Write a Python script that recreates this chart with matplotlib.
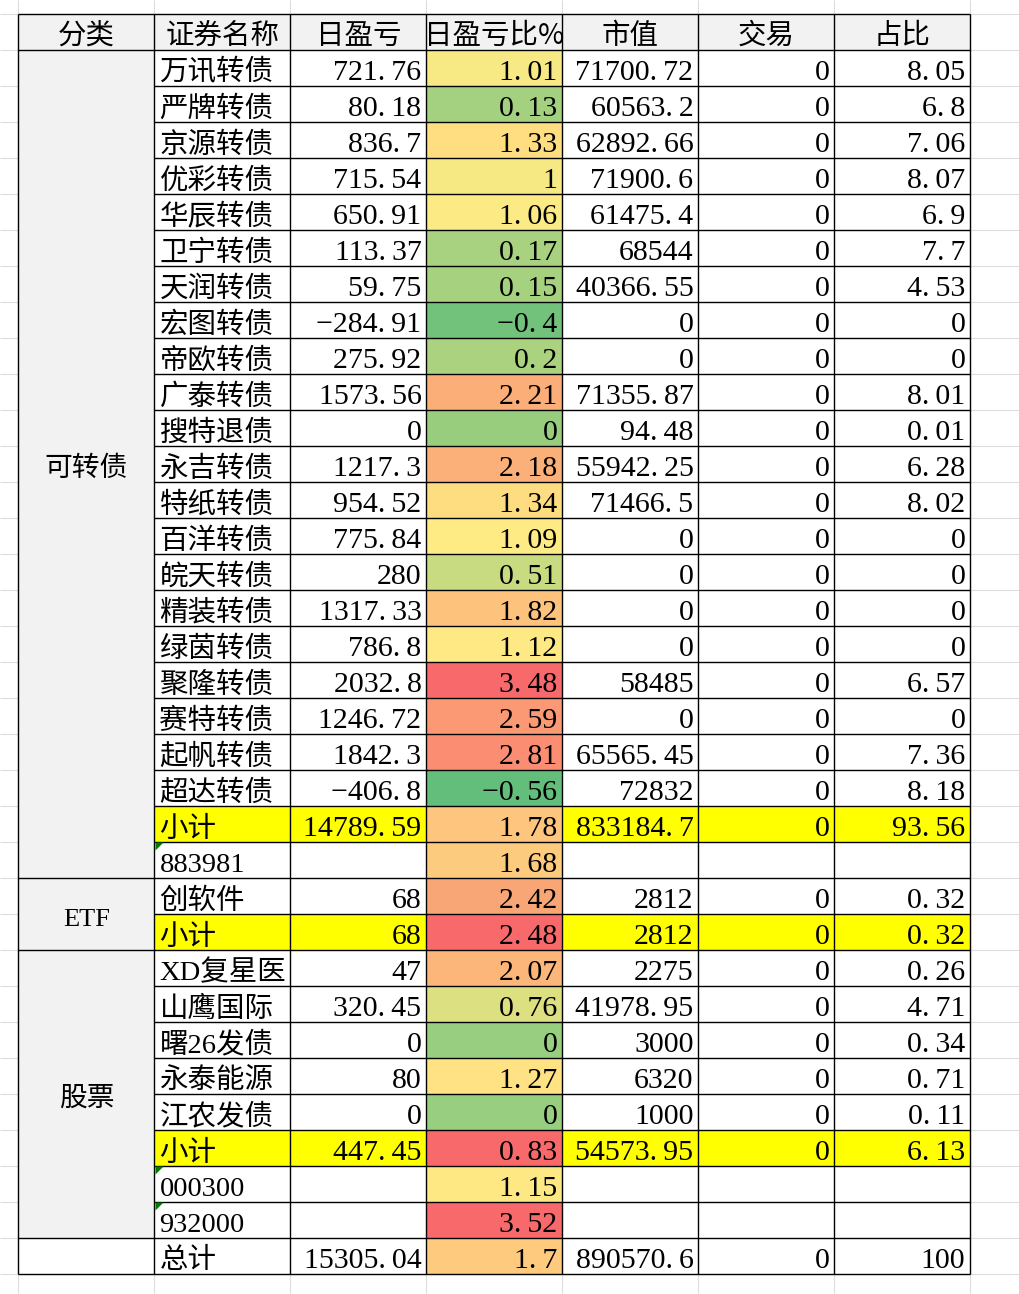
import matplotlib
matplotlib.use('Agg')
import matplotlib.pyplot as plt
from matplotlib.patches import Rectangle, Polygon
import numpy as np

# ---------------- data ----------------
headers = ['分类', '证券名称', '日盈亏', '日盈亏比%', '市值', '交易', '占比']

group_labels = ['可转债', 'ETF', '股票', '']
group_sizes = [23, 2, 8, 1]

names = ['万讯转债', '严牌转债', '京源转债', '优彩转债', '华辰转债', '卫宁转债', '天润转债',
         '宏图转债', '帝欧转债', '广泰转债', '搜特退债', '永吉转债', '特纸转债', '百洋转债',
         '皖天转债', '精装转债', '绿茵转债', '聚隆转债', '赛特转债', '起帆转债', '超达转债',
         '小计', '883981',
         '创软件', '小计',
         'XD复星医', '山鹰国际', '曙26发债', '永泰能源', '江农发债', '小计', '000300', '932000',
         '总计']

pnl = [721.76, 80.18, 836.7, 715.54, 650.91, 113.37, 59.75, -284.91, 275.92, 1573.56, 0,
       1217.3, 954.52, 775.84, 280, 1317.33, 786.8, 2032.8, 1246.72, 1842.3, -406.8,
       14789.59, None,
       68, 68,
       47, 320.45, 0, 80, 0, 447.45, None, None,
       15305.04]

ratio = [1.01, 0.13, 1.33, 1, 1.06, 0.17, 0.15, -0.4, 0.2, 2.21, 0, 2.18, 1.34, 1.09, 0.51,
         1.82, 1.12, 3.48, 2.59, 2.81, -0.56,
         1.78, 1.68,
         2.42, 2.48,
         2.07, 0.76, 0, 1.27, 0, 0.83, 1.15, 3.52,
         1.7]

market_value = [71700.72, 60563.2, 62892.66, 71900.6, 61475.4, 68544, 40366.55, 0, 0,
                71355.87, 94.48, 55942.25, 71466.5, 0, 0, 0, 0, 58485, 0, 65565.45, 72832,
                833184.7, None,
                2812, 2812,
                2275, 41978.95, 3000, 6320, 1000, 54573.95, None, None,
                890570.6]

trade = [0, 0, 0, 0, 0, 0, 0, 0, 0, 0, 0, 0, 0, 0, 0, 0, 0, 0, 0, 0, 0,
         0, None,
         0, 0,
         0, 0, 0, 0, 0, 0, None, None,
         0]

share = [8.05, 6.8, 7.06, 8.07, 6.9, 7.7, 4.53, 0, 0, 8.01, 0.01, 6.28, 8.02, 0, 0, 0, 0,
         6.57, 0, 7.36, 8.18,
         93.56, None,
         0.32, 0.32,
         0.26, 4.71, 0.34, 0.71, 0.11, 6.13, None, None,
         100]

# ---------------- styles ----------------
# colour scale fills for the rows outside the first group
other_ratio_fill = ['#F9A676', '#F8696B', '#FCB67A', '#DCE081', '#98CE7F', '#FEE283',
                    '#98CE7F', '#F8696B', '#FEE883', '#F8696B', '#FDCA7E']

def scale3(v, lo, mid, hi):
    c_lo = (99, 190, 123)
    c_mid = (255, 235, 132)
    c_hi = (248, 105, 107)
    if v <= mid:
        t = (v - lo) / (mid - lo); a, b = c_lo, c_mid
    else:
        t = (v - mid) / (hi - mid); a, b = c_mid, c_hi
    return tuple((a[i] + (b[i] - a[i]) * t) / 255 for i in range(3))

g0 = ratio[:group_sizes[0]]
lo, mid, hi = min(g0), float(np.median(g0)), max(g0)
ratio_fill = [scale3(v, lo, mid, hi) for v in g0] + other_ratio_fill

def fmt(v):
    if v is None:
        return ''
    s = f'{v:.10g}'.replace('-', '\u2212')
    # half-width period as in the original monospaced digits
    return s.replace('.', '.\u2009')

# ---------------- layout ----------------
W, H = 1020, 1294
fig = plt.figure(figsize=(W / 100, H / 100), dpi=100)
ax = fig.add_axes([0, 0, 1, 1])
ax.set_xlim(0, W)
ax.set_ylim(H, 0)
ax.axis('off')

col_edges = [18.5, 154.5, 290.5, 426.5, 562.5, 698.5, 834.5, 970.5]
top = 13.5
rh = 36
n = len(names)

def row_top(r):  # r = -1 header, 0.. data
    return top + rh * (r + 1)

GRID = '#DCDCDC'
for k in range(-1, 40):
    ax.hlines(top + rh * k, 0, W, color=GRID, lw=0.8, zorder=0)
for x in col_edges:
    ax.vlines(x, 0, H, color=GRID, lw=0.8, zorder=0)

def cell(c, r, color, nrows=1):
    x0, x1 = col_edges[c], col_edges[c + 1]
    y0 = row_top(r)
    ax.add_patch(Rectangle((x0, y0), x1 - x0, rh * nrows, facecolor=color,
                           edgecolor='none', zorder=1))

# header fill
for c in range(7):
    cell(c, -1, '#F2F2F2')
ax.add_patch(Rectangle((col_edges[0], row_top(0)), col_edges[-1] - col_edges[0], rh * n,
                       facecolor='white', edgecolor='none', zorder=0.5))

# group merged cells
starts = []
s = 0
for lab, sz in zip(group_labels, group_sizes):
    starts.append(s)
    if lab:
        cell(0, s, '#F2F2F2', nrows=sz)
    s += sz

YELLOW = '#FFFF00'
for r in range(n):
    if names[r] == '小计':
        for c in (1, 2, 4, 5, 6):
            cell(c, r, YELLOW)
    cell(3, r, ratio_fill[r])

# borders
LW = 1.0
ax.hlines(row_top(-1), col_edges[0], col_edges[-1], color='black', lw=LW, zorder=3)
group_bounds = set(starts) | {n}
for r in range(0, n + 1):
    y = row_top(r)
    x0 = col_edges[0] if r in group_bounds else col_edges[1]
    ax.hlines(y, x0, col_edges[-1], color='black', lw=LW, zorder=3)
for x in col_edges:
    ax.vlines(x, row_top(-1), row_top(n), color='black', lw=LW, zorder=3)

# green "number stored as text" markers
for r in range(n):
    if names[r].isdigit():
        x0, y0 = col_edges[1] + 1, row_top(r) + 1
        ax.add_patch(Polygon([(x0, y0), (x0 + 8, y0), (x0, y0 + 8)], closed=True,
                             facecolor='#007A00', edgecolor='none', zorder=4))

# ---------------- text ----------------
CJK = ['Liberation Serif', 'Noto Sans CJK SC']
NUM = ['Liberation Serif', 'DejaVu Serif', 'Noto Sans CJK SC']

for c, h in enumerate(headers):
    xc = (col_edges[c] + col_edges[c + 1]) / 2
    ax.text(xc, row_top(0) - 6, h, ha='center', va='baseline', fontsize=20.5,
            family=['Noto Sans CJK SC'], fontweight='normal', zorder=5)

for lab, s0, sz in zip(group_labels, starts, group_sizes):
    if lab:
        yc = row_top(s0) + rh * sz / 2
        xc = (col_edges[0] + col_edges[1]) / 2
        ax.text(xc, yc + 12.5, lab, ha='center', va='baseline',
                fontsize=20 if lab != 'ETF' else 19, family=CJK, zorder=5)

cols_num = [pnl, ratio, market_value, trade, share]
for r in range(n):
    yb = row_top(r + 1) - 5
    ax.text(col_edges[1] + 5, yb, names[r], ha='left', va='baseline', fontsize=20.5,
            family=CJK, zorder=5)
    for j, arr in enumerate(cols_num):
        c = j + 2
        ax.text(col_edges[c + 1] - 5, yb, fmt(arr[r]), ha='right', va='baseline',
                fontsize=21.5, family=NUM, zorder=5)

fig.savefig('out.png', dpi=100)
